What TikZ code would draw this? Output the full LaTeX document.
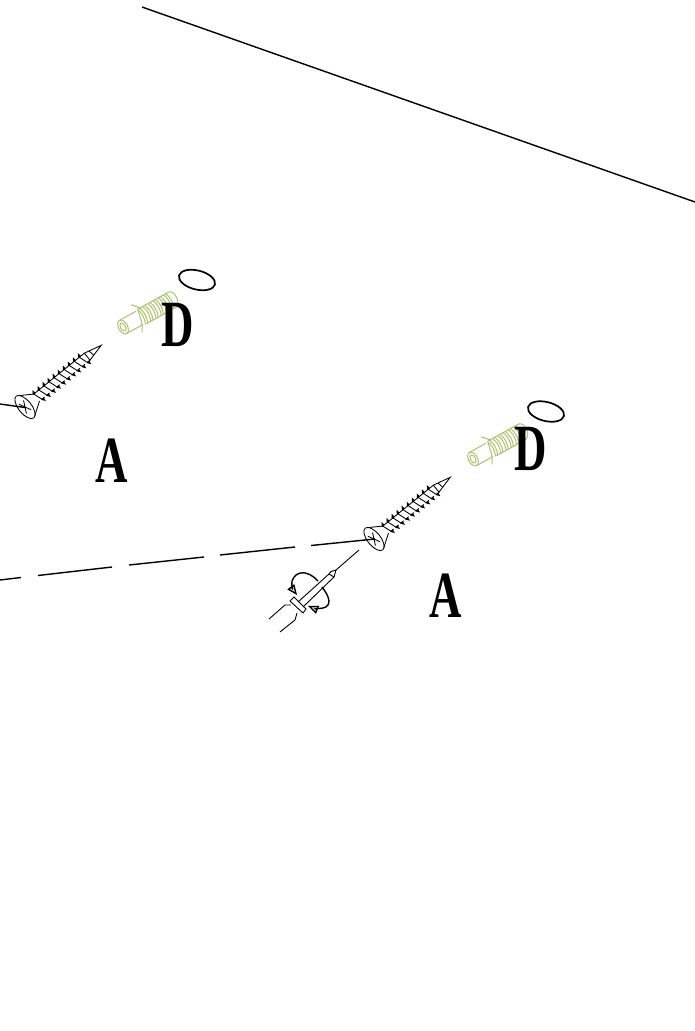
\documentclass[tikz,border=0pt]{standalone}
\usepackage{fontspec}
\setmainfont{Liberation Serif}
\usetikzlibrary{arrows,shapes}
\definecolor{plugcolor}{RGB}{170,195,110}

\tikzset{
  pics/screwpic/.style={code={
    \begin{scope}[line width=.85pt]
    \draw (0,0) ellipse (6.5 and 14);
    \draw (-3,-6) -- (3,6) (3,-6) -- (-3,6);
    \draw (2,-13) -- (15,-4.5) (2,13) -- (15,4.5);
    \foreach \x in {15,21.5,...,75} {
      \draw (\x,-4.5) -- (\x+3,4.5);
      \fill (\x-1.5,-4.5) -- (\x+1.5,-8.5) -- (\x+2,-4.5) -- cycle;
      \fill (\x+2,4.5) -- (\x+5,8.5) -- (\x+5.5,4.5) -- cycle;
      \draw (\x,-4.5) -- (\x+6.5,-4.5) (\x+3,4.5) -- (\x+6.5,4.5);
    }
    \draw (80,-4.5) -- (98,0) -- (80,4.5) -- cycle;
    \draw (85,-3) -- (86,3);
    \end{scope}
  }},
  pics/plugpic/.style={code={
    \begin{scope}[plugcolor,line width=1pt]
    \draw (0,0) ellipse (4.5 and 7.5);
    \draw (0,0) ellipse (2.5 and 4.5);
    \draw (.5,-7.5) -- (19,-7.5) (.5,7.5) -- (19,7.5);
    \draw (18,-15.5) -- (25,-7.5) (14,14) .. controls (18,8) and (19,5) .. (21,-7);
    \draw (22,-8.5) -- (56,-8.5) (22,8.5) -- (56,8.5);
    \foreach \x in {21,27,...,51} {
      \draw (\x,-8.5) .. controls (\x+2.5,-3) and (\x+2.5,3) .. (\x,8.5);
      \draw (\x+2.5,-8.5) .. controls (\x+5,-3) and (\x+5,3) .. (\x+2.5,8.5);
    }
    \draw (56,-8.5) .. controls (63,-9) and (63,6) .. (56,8.5);
    \end{scope}
  }}
}

\begin{document}
\begin{tikzpicture}[x=1pt,y=-1pt,line width=1.4pt]
 \tikzstyle{every letter}=[inner sep=0pt,font=\fontsize{66}{66}\selectfont\bfseries,xscale=.68,transform shape]
 \tikzstyle{ring}=[ellipse,draw,line width=1.7pt,minimum width=37pt,minimum height=19pt,inner sep=0pt,rotate=-14]
 \useasboundingbox (0,0) rectangle (695,1031);

 % wall edge
 \coordinate (edgea) at (142,7);
 \coordinate (edgeb) at (695,202);
 \draw (edgea) -- (edgeb);

 % left set
 \coordinate (wirea) at (0,404);
 \coordinate (heada) at (25,407.5);
 \draw (wirea) -- (heada);
 \pic at (25,407) [rotate=39] {screwpic};
 \pic at (123,327) [rotate=29] {plugpic};
 \node[ring] (ringa) at (197,280) {};
 \node[every letter] (da) at (177.5,325) {D};
 \node[every letter] (aa) at (111.5,461) {A};

 % right set
 \coordinate (headb) at (375,539);
 \coordinate (dasha) at (0,580);
 \coordinate (dashb) at (21,577.5);
 \draw (dasha) -- (dashb);
 \draw (38,575.5) -- (112,567) (129,565) -- (204,557) (220,555) -- (295,547);
 \draw (311,545.5) -- (headb);
 \pic at (374,539) [rotate=39] {screwpic};
 \pic at (473,459) [rotate=29] {plugpic};
 \node[ring] (ringb) at (546,411.5) {};
 \node[every letter] (db) at (530.5,449) {D};
 \node[every letter] (ab) at (445.5,596) {A};

 % screwdriver
 \begin{scope}[line width=.9pt]
 \draw (359,550) -- (336,570);
 \draw (336,570) -- (331,571.5) -- (329,574) -- (334,577) -- cycle;
 \draw (329,574) -- (298,602) (334,577) -- (303,607);
 \draw (294,597) -- (306,609) -- (303,613) -- (290,601) -- cycle;
 \draw (291,605) -- (285,605) -- (269,619);
 \draw (297,613) -- (295,620) -- (280,632);
 \draw[line width=1.4pt,-open triangle 45] (318,581) .. controls (308,570) and (296,570) .. (292,581) .. controls (291,586) and (294,591) .. (297,595);
 \draw[line width=1.4pt,-open triangle 45] (322,587) .. controls (330,597) and (332,606) .. (323,608) .. controls (318,609) and (313,608) .. (308,606);
 \end{scope}
\end{tikzpicture}
\end{document}
